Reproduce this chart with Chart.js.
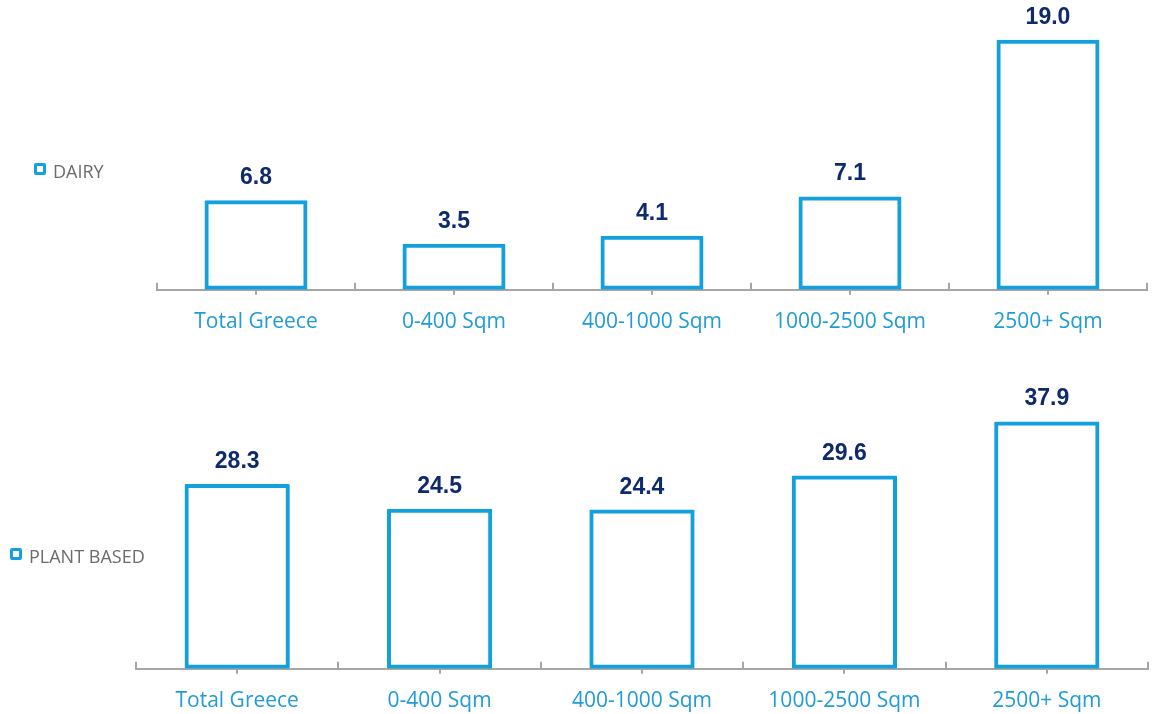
<!DOCTYPE html>
<html>
<head>
<meta charset="utf-8">
<script src="https://cdn.jsdelivr.net/npm/chart.js@4.4.1/dist/chart.umd.min.js"></script>
<style>
  html, body { margin: 0; padding: 0; background: #ffffff; }
  body { width: 1153px; height: 714px; position: relative; overflow: hidden; }
  .panel { position: absolute; left: 0; width: 1153px; }
  .legend { position: absolute; font-family: "Open Sans", sans-serif; font-size: 18px; color: #6b6b6b; line-height: 20px; white-space: nowrap; }
  .legend .sw { position: absolute; box-sizing: border-box; width: 12px; height: 12px; border: 3px solid #14a0dc; border-radius: 2px; }
  .legend .tx { position: absolute; top: 0; }
</style>
</head>
<body>
<div class="panel" id="p1" style="top:0;height:347px;"><canvas id="c1"></canvas></div>
<div class="panel" id="p2" style="top:364px;height:364px;"><canvas id="c2"></canvas></div>
<div class="legend" style="left:34px;top:163px;"><span class="sw" style="left:0;top:0;"></span><span class="tx" style="left:19px;top:-2px;">DAIRY</span></div>
<div class="legend" style="left:10px;top:548px;"><span class="sw" style="left:0;top:0;"></span><span class="tx" style="left:19px;top:-2px;">PLANT BASED</span></div>
<script>
const categories = ["Total Greece", "0-400 Sqm", "400-1000 Sqm", "1000-2500 Sqm", "2500+ Sqm"];
const dairyValues = [6.8, 3.5, 4.1, 7.1, 19.0];
const plantBasedValues = [28.3, 24.5, 24.4, 29.6, 37.9];

const BAR_COLOR = "#14a0dc";
const LABEL_COLOR = "#0f2a6c";
const AXIS_COLOR = "#a6a6a6";
const CAT_COLOR = "#1f9bd7";

const valueLabels = {
  id: "valueLabels",
  afterDatasetsDraw(chart) {
    const ctx = chart.ctx;
    const meta = chart.getDatasetMeta(0);
    const data = chart.data.datasets[0].data;
    ctx.save();
    ctx.font = "bold 23px 'Liberation Sans', Arial, sans-serif";
    ctx.fillStyle = LABEL_COLOR;
    ctx.textAlign = "center";
    ctx.textBaseline = "alphabetic";
    meta.data.forEach((bar, i) => {
      ctx.fillText(data[i].toFixed(1), bar.x, bar.y - 16);
    });
    ctx.restore();
  }
};

const axisTicks = {
  id: "axisTicks",
  afterDraw(chart) {
    const ctx = chart.ctx;
    const x = chart.scales.x;
    const n = chart.data.labels.length;
    const step = (x.right - x.left) / n;
    const y0 = x.top;
    ctx.save();
    ctx.strokeStyle = AXIS_COLOR;
    ctx.lineWidth = 2;
    ctx.beginPath();
    for (let i = 0; i <= n; i++) {
      const bx = Math.round(x.getPixelForValue(0) - step / 2 + i * step);
      ctx.moveTo(bx, y0);
      ctx.lineTo(bx, y0 - 7);
    }
    for (let i = 0; i < n; i++) {
      const cx = Math.round(x.getPixelForValue(i));
      ctx.moveTo(cx, y0);
      ctx.lineTo(cx, y0 + 5);
    }
    ctx.stroke();
    ctx.restore();
  }
};

function makeChart(id, values, yMax, pad) {
  return new Chart(document.getElementById(id), {
    type: "bar",
    data: {
      labels: categories,
      datasets: [{
        data: values,
        backgroundColor: "rgba(255,255,255,0)",
        borderColor: BAR_COLOR,
        borderWidth: 4,
        borderSkipped: false,
        borderRadius: 1,
        categoryPercentage: 1.0,
        barPercentage: 0.52
      }]
    },
    options: {
      responsive: true,
      maintainAspectRatio: false,
      animation: false,
      layout: { padding: pad },
      plugins: { legend: { display: false }, tooltip: { enabled: false } },
      scales: {
        x: {
          offset: true,
          grid: { display: false },
          border: { display: true, color: AXIS_COLOR, width: 2 },
          ticks: {
            color: CAT_COLOR,
            font: { family: "'Open Sans', sans-serif", size: 21 },
            padding: 12,
            maxRotation: 0
          }
        },
        y: { display: false, min: 0, max: yMax }
      }
    },
    plugins: [valueLabels, axisTicks]
  });
}

makeChart("c1", dairyValues, 21.8, { left: 157, right: 6, top: 3, bottom: 0 });
makeChart("c2", plantBasedValues, 44.7, { left: 136, right: 5, top: 13, bottom: 2 });
</script>
</body>
</html>
